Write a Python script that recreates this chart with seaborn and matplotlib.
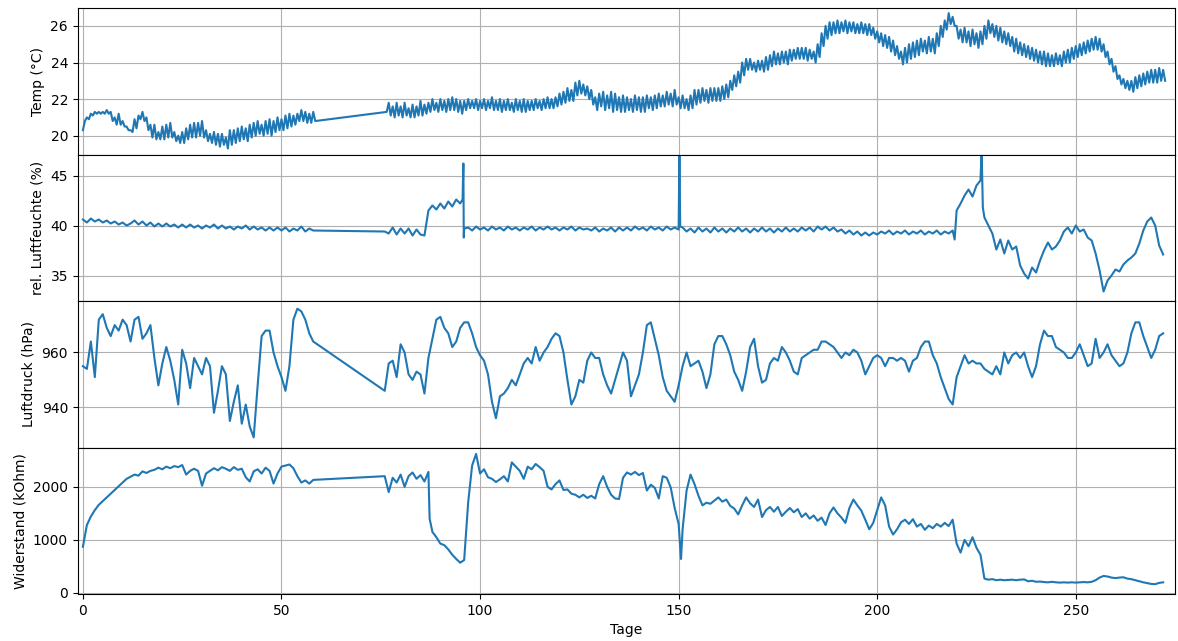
import numpy as np
import pandas as pd
import matplotlib
matplotlib.use("Agg")
import matplotlib.pyplot as plt
import seaborn as sb

# Temperatur, halbtaegig (Tagesmax / Tagesmin abwechselnd)
temp_a_start = 0.0
temp_a = [
    20.3, 20.8, 21.0, 20.9, 21.2, 21.1, 21.3, 21.2, 21.3, 21.2,
    21.3, 21.2, 21.4, 21.2, 21.3, 20.8, 21.0, 20.6, 21.2, 20.6,
    20.8, 20.5, 20.5, 20.3, 20.3, 20.2, 20.9, 20.4, 21.1, 20.9,
    21.3, 20.8, 21.0, 20.3, 20.6, 19.9, 20.6, 19.8, 20.2, 19.8,
    20.5, 19.8, 20.6, 19.9, 20.7, 19.9, 20.2, 19.7, 20.0, 19.6,
    20.2, 19.6, 20.4, 19.8, 20.6, 19.9, 20.7, 19.9, 20.7, 20.0,
    20.8, 19.9, 20.3, 19.7, 20.1, 19.6, 20.2, 19.5, 20.1, 19.4,
    20.1, 19.5, 19.9, 19.3, 20.3, 19.5, 20.3, 19.6, 20.4, 19.7,
    20.5, 19.8, 20.4, 19.7, 20.6, 19.9, 20.7, 20.0, 20.8, 20.1,
    20.6, 20.0, 20.8, 20.1, 20.9, 20.0, 20.8, 20.2, 21.0, 20.3,
    20.9, 20.3, 21.1, 20.4, 21.2, 20.5, 21.1, 20.6, 21.2, 20.8,
    21.4, 20.8, 21.3, 20.7, 21.2, 20.7, 21.3, 20.8,
]
temp_b_start = 76.5
temp_b = [
    21.3,
    21.8, 21.1, 21.6, 21.0, 21.8, 21.1, 21.6, 21.0, 21.8, 21.1,
    21.5, 21.0, 21.7, 21.0, 21.6, 21.1, 21.9, 21.1, 21.7, 21.2,
    21.8, 21.3, 22.0, 21.4, 21.8, 21.3, 22.0, 21.4, 21.9, 21.3,
    22.0, 21.4, 22.1, 21.4, 22.0, 21.3, 21.9, 21.2, 21.9, 21.4,
    22.0, 21.5, 21.9, 21.5, 22.0, 21.4, 21.9, 21.5, 22.0, 21.4,
    21.9, 21.5, 22.1, 21.4, 21.9, 21.4, 22.0, 21.3, 21.9, 21.4,
    22.0, 21.4, 21.8, 21.3, 22.0, 21.4, 21.9, 21.3, 22.0, 21.3,
    21.9, 21.4, 21.9, 21.4, 22.0, 21.5, 21.9, 21.4, 22.0, 21.5,
    22.1, 21.5, 22.0, 21.5, 22.1, 21.6, 22.3, 21.7, 22.4, 21.8,
    22.6, 21.9, 22.5, 21.9, 22.9, 22.2, 23.0, 22.3, 22.8, 22.2,
    22.7, 22.0, 22.5, 21.7, 22.1, 21.4, 22.3, 21.6, 22.4, 21.4,
    22.2, 21.5, 22.4, 21.3, 22.3, 21.4, 22.1, 21.3, 22.2, 21.3,
    22.1, 21.4, 22.0, 21.3, 22.2, 21.4, 22.1, 21.3, 22.1, 21.3,
    22.2, 21.5, 22.1, 21.4, 22.2, 21.5, 22.3, 21.6, 22.2, 21.6,
    22.4, 21.7, 22.3, 21.6, 22.5, 21.7, 22.1, 21.5, 22.2, 21.5,
    22.0, 21.4, 22.2, 21.5, 22.5, 21.7, 22.5, 21.8, 22.6, 21.9,
    22.5, 21.8, 22.6, 21.9, 22.6, 21.9, 22.6, 21.9, 22.7, 22.0,
    22.8, 22.1, 23.0, 22.5, 23.3, 22.7, 23.5, 22.9, 24.0, 23.3,
    24.2, 23.6, 24.2, 23.6, 24.0, 23.5, 24.1, 23.6, 24.1, 23.5,
    24.3, 23.6, 24.4, 23.8, 24.6, 23.9, 24.5, 23.9, 24.6, 24.0,
    24.6, 23.9, 24.7, 24.1, 24.7, 24.2, 24.8, 24.2, 24.8, 24.2,
    24.8, 24.1, 24.7, 24.2, 24.6, 24.0, 25.0, 24.3, 25.6, 24.9,
    26.0, 25.3, 26.2, 25.5, 26.2, 25.6, 26.3, 25.6, 26.2, 25.7,
    26.3, 25.6, 26.2, 25.7, 26.2, 25.6, 26.1, 25.6, 26.2, 25.6,
    26.1, 25.5, 26.1, 25.5, 25.9, 25.3, 25.7, 25.1, 25.6, 24.9,
    25.5, 24.8, 25.4, 24.6, 25.2, 24.4, 24.9, 24.2, 24.6, 23.9,
    24.8, 24.0, 25.0, 24.2, 25.1, 24.3, 25.2, 24.4, 25.3, 24.6,
    25.2, 24.5, 25.4, 24.6, 25.3, 24.5, 25.6, 24.9, 26.0, 25.4,
    26.3, 25.8, 26.7, 26.1, 26.5, 26.0, 26.0, 25.3, 25.8, 25.1,
    25.9, 25.1, 25.7, 24.9, 25.8, 25.0, 25.6, 24.8, 25.7, 25.0,
    26.0, 25.3, 26.3, 25.6, 26.1, 25.4, 26.0, 25.2, 25.9, 25.1,
    25.7, 25.0, 25.6, 24.9, 25.4, 24.6, 25.3, 24.5, 25.1, 24.4,
    25.0, 24.3, 24.9, 24.2, 24.8, 24.1, 24.7, 24.0, 24.6, 23.9,
    24.6, 23.8, 24.5, 23.8, 24.4, 23.8, 24.5, 23.9, 24.4, 23.8,
    24.6, 24.0, 24.7, 24.0, 24.8, 24.2, 24.9, 24.3, 25.0, 24.4,
    25.1, 24.5, 25.2, 24.6, 25.3, 24.7, 25.4, 24.7, 25.3, 24.6,
    25.0, 24.3, 24.6, 23.9, 24.2, 23.5, 23.8, 23.1, 23.3, 22.8,
    23.1, 22.6, 23.0, 22.5, 23.0, 22.4, 23.2, 22.6, 23.3, 22.7,
    23.4, 22.8, 23.5, 22.9, 23.6, 22.9, 23.6, 22.9, 23.7, 23.0,
    23.6, 23.0,
]

# rel. Luftfeuchte, taeglich
hum_a = [
    40.6, 40.3, 40.7, 40.4, 40.6, 40.3, 40.5, 40.2, 40.4, 40.1, 40.3, 40.0,
    40.2, 40.5, 40.1, 40.4, 40.0, 40.3, 39.9, 40.2, 39.9, 40.2, 39.9, 40.1,
    39.8, 40.1, 39.8, 40.1, 39.8, 40.0, 39.7, 40.0, 39.8, 40.1, 39.7, 40.0,
    39.7, 39.9, 39.6, 39.9, 39.7, 40.0, 39.6, 39.9, 39.6, 39.8, 39.5, 39.8,
    39.5, 39.8, 39.5, 39.8, 39.4, 39.7, 39.5, 39.9, 39.4, 39.7, 39.5,
]
hum_b = [
    39.4, 39.2, 39.8, 39.1, 39.7, 39.2, 39.7, 39.0, 39.6, 39.1, 39.0,
    41.5, 42.0, 41.6, 42.2, 41.7, 42.4, 41.9, 42.6, 42.2,
    39.7, 39.8, 39.5, 39.9, 39.6, 39.8, 39.5, 39.9, 39.6, 39.8, 39.5,
    39.9, 39.6, 39.8, 39.5, 39.8, 39.6, 39.9, 39.5, 39.8, 39.6,
    39.9, 39.6, 39.8, 39.5, 39.8, 39.6, 39.9, 39.5, 39.8, 39.6,
    39.7, 39.5, 39.8, 39.4, 39.7, 39.5, 39.8, 39.4,
    39.8, 39.5, 39.8, 39.5, 39.9, 39.6, 39.8, 39.5, 39.9, 39.6, 39.8, 39.5, 39.9, 39.6, 39.8,
    39.6,
    39.8, 39.4, 39.7, 39.3, 39.8, 39.4, 39.7, 39.3, 39.8, 39.4,
    39.7, 39.3, 39.7, 39.4, 39.8, 39.4, 39.7, 39.3, 39.7, 39.4,
    39.8, 39.4, 39.7, 39.3, 39.7, 39.4, 39.8, 39.4, 39.7, 39.4,
    39.8, 39.5, 39.8, 39.4, 39.9, 39.6, 39.9,
    39.5, 39.8, 39.4, 39.6, 39.2, 39.5, 39.1, 39.4, 39.0, 39.3,
    39.0, 39.3, 39.1, 39.4, 39.2, 39.5, 39.1, 39.4, 39.2, 39.5,
    39.1, 39.4, 39.2, 39.5, 39.1, 39.4, 39.2, 39.5, 39.1, 39.4,
    39.2, 39.5,
    41.5, 42.2, 43.0, 43.6, 42.9, 44.0, 44.5,
    40.8, 40.0, 39.2, 37.6, 38.6, 37.2, 38.5, 37.6, 37.9,
    36.0, 35.2, 34.7, 35.8, 35.3, 36.5, 37.5, 38.3, 37.6, 37.9,
    38.5, 39.4, 39.8, 39.2, 40.0, 39.4, 39.6, 38.8, 38.5,
    37.2, 35.5, 33.4, 34.5, 35.0, 35.6, 35.4, 36.1, 36.5, 36.8,
    37.2, 38.2, 39.5, 40.4, 40.8, 40.0, 38.0, 37.1,
]
hum_spike_tage = [95.6, 95.8, 95.9, 150.2, 150.4, 219.5, 226.3, 226.6]
hum_spike_werte = [42.6, 46.2, 38.8, 47.5, 39.9, 38.6, 47.5, 41.8]

# Luftdruck, taeglich
pres_a = [
    955, 954, 964, 951, 972, 974, 969, 966, 970, 968,
    972, 970, 964, 972, 973, 965, 967, 970, 958, 948,
    956, 962, 957, 950, 941, 961, 956, 947, 958, 955,
    952, 958, 955, 938, 946, 955, 952, 935, 942, 948,
    934, 941, 933, 929, 948, 966, 968, 968, 960, 955,
    951, 946, 955, 972, 976, 975, 972, 967, 964,
]
pres_b = [
    946, 956, 957, 951, 963, 960, 952, 950, 953, 952,
    945, 958, 965, 972, 973, 969, 967, 962, 964, 969,
    971, 971, 967, 962, 959, 957, 952, 942, 936, 944,
    945, 947, 950, 948, 952, 956, 958, 956, 962, 957,
    960, 962, 965, 967, 966, 960, 950, 941, 944, 950,
    949, 957, 960, 958, 958, 952, 948, 945, 950, 955,
    960, 957, 944, 948, 952, 960, 970, 971, 965, 959,
    951, 946, 944, 942, 948, 955, 960, 955, 956, 957,
    953, 947, 952, 963, 966, 966, 963, 959, 953, 950,
    946, 953, 962, 965, 955, 949, 950, 956, 958, 957,
    962, 960, 957, 953, 952, 958, 959, 960, 961, 961,
    964, 964, 963, 962, 960, 958, 960, 959, 961, 960,
    957, 952, 955, 958, 959, 958, 955, 958, 958, 957,
    958, 957, 953, 957, 958, 962, 964, 964, 959, 956,
    951, 947, 943, 941, 951, 955, 959, 956, 957, 956,
    956, 954, 953, 952, 955, 952, 960, 956, 959, 960,
    958, 960, 955, 951, 955, 963, 968, 966, 966, 962,
    961, 960, 958, 958, 960, 963, 959, 955, 956, 965,
    958, 960, 963, 959, 957, 955, 956, 960, 967, 971,
    971, 966, 962, 958, 961, 966, 967,
]

# Widerstand, taeglich
res_a = [
    870, 1280, 1440, 1560, 1660, 1730, 1800, 1870, 1940, 2010,
    2080, 2150, 2190, 2230, 2210, 2290, 2260, 2300, 2320, 2360,
    2330, 2380, 2350, 2390, 2370, 2410, 2230, 2300, 2340, 2300,
    2020, 2250, 2300, 2350, 2310, 2370, 2340, 2300, 2370, 2320,
    2340, 2180, 2100, 2290, 2330, 2250, 2360, 2300, 2060, 2250,
    2380, 2400, 2420, 2350, 2200, 2080, 2120, 2060, 2130,
]
res_b = [
    2200, 1900, 2170, 2080, 2230, 2000, 2200, 2270, 2150, 2220,
    2100, 2280, 1150, 1050, 930, 900, 820, 720, 640, 570,
    620, 1700, 2400, 2620, 2250, 2330, 2180, 2150, 2090, 2140,
    2200, 2100, 2460, 2380, 2300, 2150, 2380, 2330, 2430, 2370,
    2300, 2000, 1950, 2050, 2120, 1940, 1950, 1870, 1850, 1800,
    1850, 1790, 1830, 1780, 2050, 2200, 2000, 1850, 1780, 1770,
    2170, 2270, 2230, 2280, 2220, 2260, 1930, 2040, 1980, 1780,
    2200, 2170, 1990, 1600, 1300, 1200, 1930, 2230, 2050, 1830,
    1650, 1700, 1680, 1740, 1800, 1720, 1760, 1640, 1590, 1480,
    1650, 1800, 1690, 1620, 1760, 1430, 1560, 1620, 1530, 1620,
    1450, 1530, 1600, 1520, 1580, 1430, 1500, 1400, 1460, 1360,
    1420, 1280, 1500, 1610, 1500, 1420, 1320, 1600, 1760, 1650,
    1550, 1380, 1200, 1320, 1560, 1800, 1650, 1250, 1100, 1200,
    1330, 1380, 1300, 1390, 1250, 1300, 1190, 1270, 1220, 1300,
    1250, 1320, 1260, 1380, 930, 760, 1000, 880, 1050, 850,
    720, 270, 250, 260, 240, 250, 240, 245, 250, 240,
    250, 255, 220, 230, 210, 215, 205, 200, 210, 200,
    195, 200, 195, 200, 195, 200, 205, 200, 210, 240,
    290, 320, 310, 290, 280, 290, 295, 270, 260, 240,
    220, 200, 185, 170, 165, 190, 200,
]
res_spike_tage = [87.3, 150.6]
res_spike_werte = [1400, 640]


def reihe(start_a, vals_a, start_b, vals_b, schritt, extra_t=(), extra_w=()):
    t = np.concatenate([start_a + schritt * np.arange(len(vals_a)),
                        start_b + schritt * np.arange(len(vals_b)),
                        np.array(extra_t, dtype=float)])
    w = np.concatenate([vals_a, vals_b, np.array(extra_w, dtype=float)])
    return pd.DataFrame({"tag": t, "wert": w}).sort_values("tag")


daten = [
    (reihe(temp_a_start, temp_a, temp_b_start, temp_b, 0.5), "Temp (°C)", (18.97, 26.98), [20, 22, 24, 26]),
    (reihe(0, hum_a, 76, hum_b, 1, hum_spike_tage, hum_spike_werte), "rel. Luftfeuchte (%)", (32.45, 47.1), [35, 40, 45]),
    (reihe(0, pres_a, 76, pres_b, 1), "Luftdruck (hPa)", (925.3, 978.8), [940, 960]),
    (reihe(0, res_a, 76, res_b, 1, res_spike_tage, res_spike_werte), "Widerstand (kOhm)", (-20, 2740), [0, 1000, 2000]),
]

fig, axes = plt.subplots(4, 1, sharex=True, figsize=(11.78, 6.41), dpi=100)
plt.subplots_adjust(left=0.066, right=0.9975, top=0.9875, bottom=0.0733, hspace=0)

for ax, (df, label, lim, ticks) in zip(axes, daten):
    sb.lineplot(data=df, x="tag", y="wert", ax=ax, estimator=None, sort=False,
                color="#1f77b4", linewidth=1.5)
    ax.set_ylabel(label)
    ax.set_xlabel("")
    ax.set_ylim(lim)
    ax.set_yticks(ticks)
    ax.grid(True, color="#b0b0b0", linewidth=0.8)
    ax.set_axisbelow(True)

axes[-1].set_xlim(-1.3, 275)
axes[-1].set_xticks([0, 50, 100, 150, 200, 250])
axes[-1].set_xlabel("Tage")

plt.savefig("out.png", dpi=100)
